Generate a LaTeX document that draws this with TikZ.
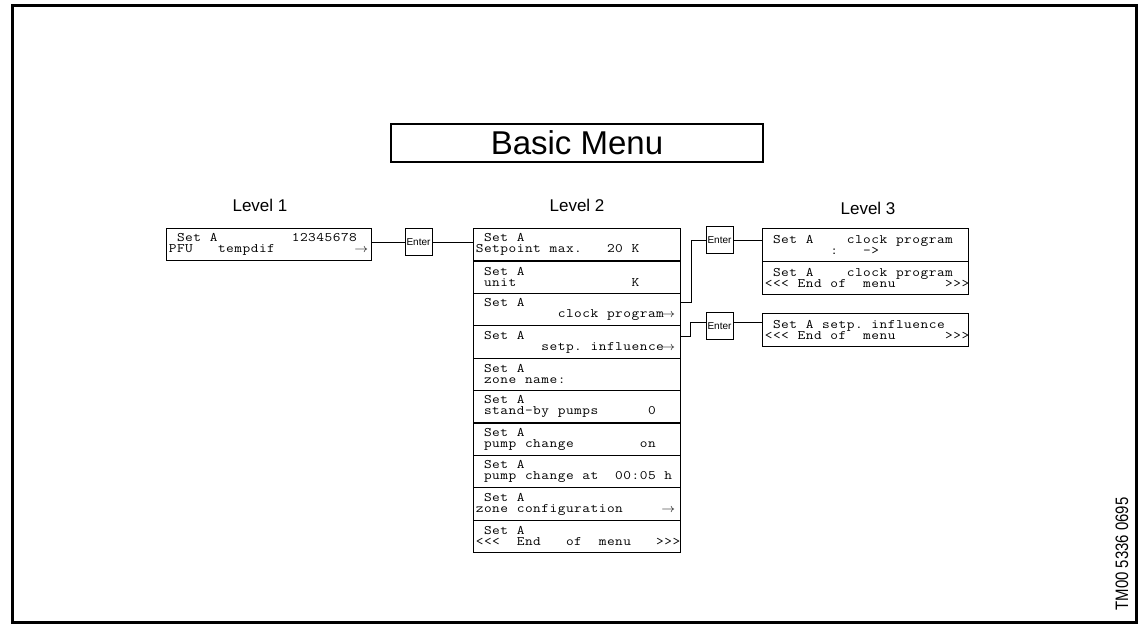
\documentclass[tikz,border=0pt]{standalone}
\usepackage{fontspec}
\usepackage{graphicx}
\setmainfont{Liberation Sans}
\newfontfamily\narrowsans[FakeStretch=0.83]{Liberation Sans}
\newcommand\ar{$\rightarrow$}
\def\lcdloop#1{\ifx#1\relax\else\makebox[8.2pt][c]{\ifx#1~\else\scalebox{1.15}[1]{#1}\fi}\expandafter\lcdloop\fi}
\newcommand\lcdline[1]{\mbox{\lcdloop#1\relax}}
\begin{document}
\begin{tikzpicture}[x=1pt,y=-1pt,
  lcdbox/.style={draw, line width=1.1pt, anchor=north west, inner xsep=2pt, inner ysep=0pt,
    align=left, font=\ttfamily\fontsize{13}{11}\selectfont},
  lvtwo/.style={lcdbox, minimum width=207pt, text width=203pt, minimum height=32.4pt},
  lvone/.style={lcdbox, minimum width=205pt, text width=201pt, minimum height=32pt},
  lvthree/.style={lcdbox, minimum width=206pt, text width=202pt, minimum height=33pt},
  enterbox/.style={draw, line width=1pt, minimum width=27pt, minimum height=27pt, inner sep=0pt,
    font=\fontsize{10}{10}\selectfont},
  levellabel/.style={font=\fontsize{17}{17}\selectfont},
  conn/.style={line width=0.9pt}]
\useasboundingbox (0,0) rectangle (1141,625);
\draw[line width=3pt] (12.5,5) rectangle (1136,622);

\node[draw, line width=1.3pt, minimum width=372pt, minimum height=38pt,
  font=\fontsize{33}{33}\selectfont] (title) at (577,143) {Basic Menu};

\node[levellabel] (lv1) at (260,205) {Level 1};
\node[levellabel] (lv2) at (577,205) {Level 2};
\node[levellabel] (lv3) at (868,208) {Level 3};

% Level 1
\node[lvone] (l1) at (166,228) {\lcdline{~Set~A~~~~~~~~~12345678}\\\lcdline{PFU~~~tempdif~~~~~~~~~~\ar}};

% Level 2
\node[lvtwo] (r1) at (473,228.0) {\lcdline{~Set~A}\\\lcdline{Setpoint~max.~~~20~K}};
\node[lvtwo] (r2) at (473,260.4) {\lcdline{~Set~A}\\\lcdline{~unit~~~~~~~~~~~~~~K}};
\node[lvtwo] (r3) at (473,292.8) {\lcdline{~Set~A}\\\lcdline{~~~~~~~~~~clock~program\ar}};
\node[lvtwo] (r4) at (473,325.2) {\lcdline{~Set~A}\\\lcdline{~~~~~~~~setp.~influence\ar}};
\node[lvtwo] (r5) at (473,357.6) {\lcdline{~Set~A}\\\lcdline{~zone~name:}};
\node[lvtwo] (r6) at (473,390.0) {\lcdline{~Set~A}\\\lcdline{~stand-by~pumps~~~~~~0}};
\node[lvtwo] (r7) at (473,422.4) {\lcdline{~Set~A}\\\lcdline{~pump~change~~~~~~~~on}};
\node[lvtwo] (r8) at (473,454.8) {\lcdline{~Set~A}\\\lcdline{~pump~change~at~~00:05~h}};
\node[lvtwo] (r9) at (473,487.2) {\lcdline{~Set~A}\\\lcdline{zone~configuration~~~~~\ar}};
\node[lvtwo] (r10) at (473,519.6) {\lcdline{~Set~A}\\\lcdline{<<<~~End~~~of~~menu~~~>>>}};

% Level 3
\node[lvthree] (l3a) at (762,228) {\lcdline{~Set~A~~~~clock~program}\\\lcdline{~~~~~~~~:~~~->}};
\node[lvthree] (l3b) at (762,261) {\lcdline{~Set~A~~~~clock~program}\\\lcdline{<<<~End~of~~menu~~~~~~>>>}};
\node[lvthree] (l3c) at (762,313) {\lcdline{~Set~A~setp.~influence}\\\lcdline{<<<~End~of~~menu~~~~~~>>>}};

% Enter keys
\node[enterbox] (e1) at (418.5,242) {Enter};
\node[enterbox] (e2) at (719.5,240) {Enter};
\node[enterbox] (e3) at (719.5,326) {Enter};
\coordinate (e3in) at ([yshift=4pt]e3.west);
\coordinate (e3out) at ([yshift=4pt]e3.east);

% connectors
\draw[conn] (l1.east |- e1.west) -- (e1.west);
\draw[conn] (e1.east) -- (r1.west |- e1.east);
\draw[conn] ([yshift=7pt]r3.east) -- ++(10,0) |- (e2.west);
\draw[conn] (e2.east) -- (l3a.west |- e2.east);
\draw[conn] ([yshift=6pt]r4.east) -- ++(9,0) |- (e3in);
\draw[conn] (e3out) -- (l3c.west |- e3out);

\node[rotate=90, font=\narrowsans\fontsize{18}{18}\selectfont] (tm) at (1122,554) {TM00 5336 0695};
\end{tikzpicture}
\end{document}
